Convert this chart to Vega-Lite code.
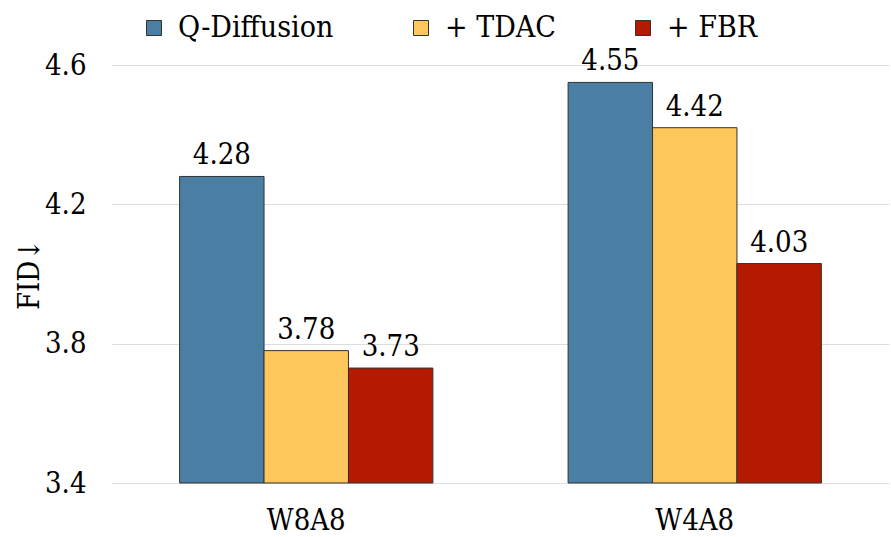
{
  "$schema": "https://vega.github.io/schema/vega-lite/v6.json",
  "width": 777,
  "height": 418,
  "autosize": {"type": "none"},
  "padding": {"left": 112, "top": 65, "right": 2, "bottom": 54},
  "background": "white",
  "config": {
    "view": {"stroke": null}
  },
  "data": {
    "values": [
      {"group": "W8A8", "method": "Q-Diffusion", "value": 4.28},
      {"group": "W8A8", "method": "+ TDAC", "value": 3.78},
      {"group": "W8A8", "method": "+ FBR", "value": 3.73},
      {"group": "W4A8", "method": "Q-Diffusion", "value": 4.55},
      {"group": "W4A8", "method": "+ TDAC", "value": 4.42},
      {"group": "W4A8", "method": "+ FBR", "value": 4.03}
    ]
  },
  "encoding": {
    "x": {
      "field": "group",
      "type": "nominal",
      "sort": ["W8A8", "W4A8"],
      "scale": {"paddingInner": 0.348, "paddingOuter": 0.174},
      "axis": {
        "title": null,
        "domain": false,
        "ticks": false,
        "grid": false,
        "labelAngle": 0,
        "labelFont": "DejaVu Serif Condensed",
        "labelFontSize": 29,
        "labelColor": "#000",
        "labelPadding": 46,
        "labelBaseline": "alphabetic"
      }
    },
    "xOffset": {
      "field": "method",
      "type": "nominal",
      "sort": ["Q-Diffusion", "+ TDAC", "+ FBR"],
      "scale": {"paddingInner": 0, "paddingOuter": 0}
    },
    "y": {
      "field": "value",
      "type": "quantitative",
      "scale": {"domain": [3.4, 4.6], "zero": false, "nice": false},
      "axis": {
        "values": [3.4, 3.8, 4.2, 4.6],
        "format": ".1f",
        "grid": true,
        "gridColor": "#dedede",
        "gridWidth": 1.2,
        "domain": false,
        "ticks": false,
        "labelFont": "DejaVu Serif Condensed",
        "labelFontSize": 29,
        "labelColor": "#000",
        "labelPadding": 26,
        "title": "FID↓",
        "titleFont": "DejaVu Serif Condensed",
        "titleFontSize": 29,
        "titleFontWeight": "normal",
        "titleColor": "#000",
        "titleAngle": 270,
        "titleX": -83,
        "titleY": 209,
        "titleAlign": "center",
        "titleBaseline": "middle"
      }
    }
  },
  "layer": [
    {
      "mark": {"type": "bar", "stroke": "#333", "strokeWidth": 1},
      "encoding": {
        "y2": {"datum": 3.4},
        "color": {
          "field": "method",
          "type": "nominal",
          "scale": {
            "domain": ["Q-Diffusion", "+ TDAC", "+ FBR"],
            "range": ["#4A7EA3", "#FEC75B", "#B51A00"]
          },
          "legend": {
            "orient": "none",
            "legendX": 27,
            "legendY": -52,
            "direction": "horizontal",
            "title": null,
            "symbolType": "square",
            "symbolSize": 225,
            "symbolStrokeColor": "#333",
            "symbolStrokeWidth": 1,
            "symbolOpacity": 1,
            "labelFont": "DejaVu Serif Condensed",
            "labelFontSize": 30,
            "labelLimit": 0,
            "labelColor": "#000",
            "labelOffset": 9,
            "columnPadding": 72,
            "padding": 0
          }
        }
      }
    },
    {
      "mark": {"type": "text", "baseline": "alphabetic", "dy": -12, "fontSize": 29, "color": "#000", "font": "DejaVu Serif Condensed"},
      "encoding": {"text": {"field": "value", "type": "quantitative", "format": ".2f"}}
    }
  ]
}
